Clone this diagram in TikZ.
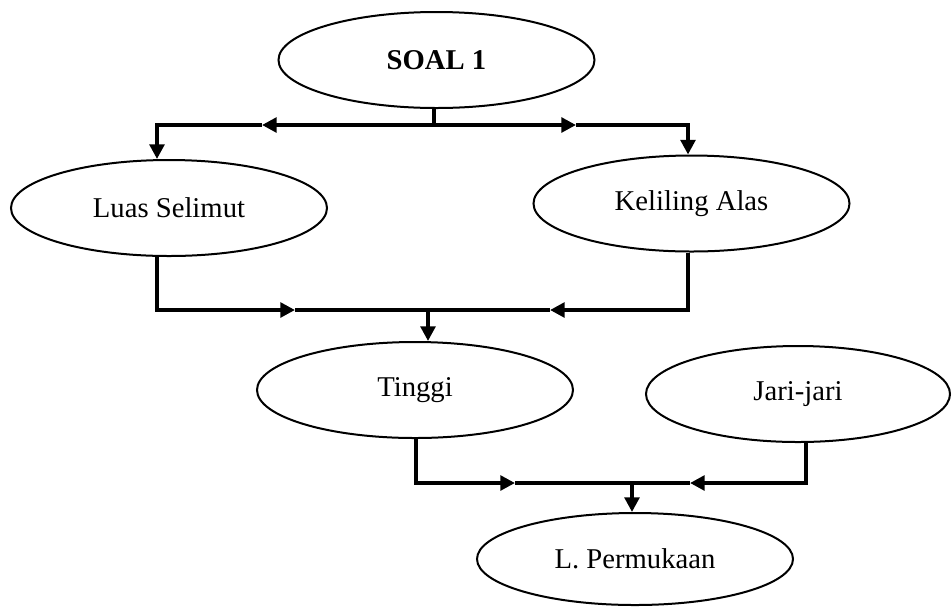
\documentclass[tikz,border=0pt]{standalone}
\usepackage{fontspec}
\setmainfont{Liberation Serif}
\usetikzlibrary{shapes.geometric,arrows.meta}
\begin{document}
\begin{tikzpicture}[x=0.75pt,y=-0.75pt,
  oval/.style={ellipse, draw, line width=1.5pt, inner sep=0pt,
    minimum width=237pt, minimum height=72pt,
    font=\fontsize{21.5}{25}\selectfont},
  conn/.style={line width=2.7pt, line join=miter},
  tip/.style={-{Triangle[length=11pt,width=11pt]}}]
\useasboundingbox (0,0) rectangle (952,608);

% concept nodes
\node[oval, font=\fontsize{21.5}{25}\selectfont\bfseries] (soal) at (436.5,60) {SOAL 1};
\node[oval] (luas) at (169,208) {Luas Selimut};
\node[oval] (kel) at (691.5,203.5) {Keliling Alas};
\node[oval] (tinggi) at (415,390) {Tinggi};
\node[oval, minimum width=228pt] (jari) at (798,394) {Jari-jari};
\node[oval, minimum height=69pt] (perm) at (635,559) {L. Permukaan};

% junction points of the connector bars
\coordinate (t0) at (434,125);
\coordinate (tl) at (157,125);
\coordinate (tr) at (688,125);
\coordinate (ta1) at (262,125);
\coordinate (ta2) at (576,125);

\coordinate (m0) at (428,310);
\coordinate (ml) at (157,310);
\coordinate (mr) at (688,310);
\coordinate (ma1) at (295,310);
\coordinate (ma2) at (550,310);

\coordinate (b0) at (632,483);
\coordinate (bl) at (416,483);
\coordinate (br) at (806,483);
\coordinate (ba1) at (515,483);
\coordinate (ba2) at (690,483);

% SOAL 1 splits into the two known quantities
\draw[conn] (soal.south -| t0) -- (t0);
\draw[conn, tip] (t0) -- (ta1);
\draw[conn, tip] (ta1) -- (tl) -- (luas.north -| tl);
\draw[conn, tip] (t0) -- (ta2);
\draw[conn, tip] (ta2) -- (tr) -- (kel.north -| tr);

% both lead to the height
\draw[conn, tip] (luas.south -| ml) -- (ml) -- (ma1);
\draw[conn] (ma1) -- (m0);
\draw[conn, tip] (kel.south -| mr) -- (mr) -- (ma2);
\draw[conn] (ma2) -- (m0);
\draw[conn, tip] (m0) -- (tinggi.north -| m0);

% height and radius give the surface area
\draw[conn, tip] (tinggi.south -| bl) -- (bl) -- (ba1);
\draw[conn] (ba1) -- (b0);
\draw[conn, tip] (jari.south -| br) -- (br) -- (ba2);
\draw[conn] (ba2) -- (b0);
\draw[conn, tip] (b0) -- (perm.north -| b0);
\end{tikzpicture}
\end{document}
